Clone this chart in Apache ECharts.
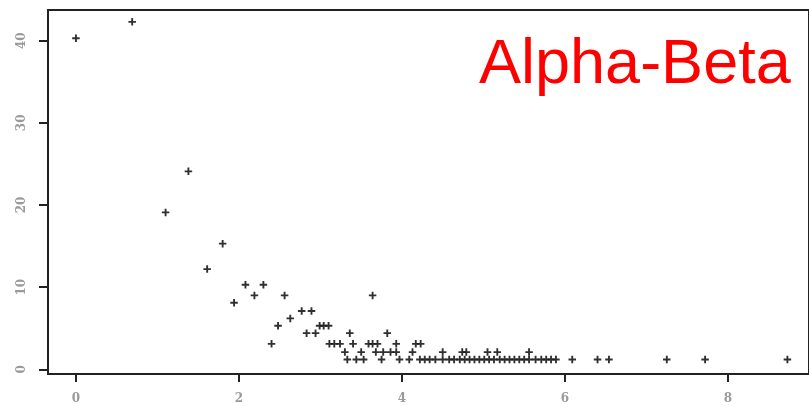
<!DOCTYPE html>
<html>
<head>
<meta charset="utf-8">
<script src="https://cdn.jsdelivr.net/npm/echarts@6/dist/echarts.min.js"></script>
<style>
  html, body { margin: 0; padding: 0; background: #fff; }
  #chart { width: 809px; height: 406px; }
</style>
</head>
<body>
<div id="chart"></div>
<script>
// Scatter points, grouped by rows of similar height
const xValues = [
  0.00, 0.69, 1.10, 1.38, 1.61, 1.80, 1.94, 2.08, 2.19, 2.30,
  2.56, 3.64, 2.63, 2.77, 2.89,
  2.48, 2.99, 3.04, 3.10,
  2.83, 2.94, 3.36, 3.82,
  2.40, 3.11, 3.17, 3.24, 3.40, 3.59, 3.64, 3.70, 3.93, 4.17, 4.23,
  3.30, 3.50, 3.68, 3.77, 3.86, 3.93, 4.13, 4.50, 4.74, 4.79, 5.05, 5.17, 5.56,
  3.33, 3.44, 3.53, 3.75, 3.97, 4.09, 4.22, 4.28, 4.34, 4.41, 4.50, 4.58, 4.64,
  4.71, 4.77, 4.83, 4.89, 4.95, 5.01, 5.07, 5.13, 5.20, 5.26, 5.32, 5.38, 5.44,
  5.50, 5.56, 5.64, 5.71, 5.77, 5.83, 5.89, 6.09, 6.40, 6.54, 7.25, 7.72, 8.73
];
const yValues = [
  40.3, 42.3, 19.1, 24.1, 12.2, 15.3, 8.1, 10.3, 9.0, 10.3,
  9.0, 9.0, 6.2, 7.1, 7.1,
  5.3, 5.3, 5.3, 5.3,
  4.4, 4.4, 4.4, 4.4,
  3.1, 3.1, 3.1, 3.1, 3.1, 3.1, 3.1, 3.1, 3.1, 3.1, 3.1,
  2.1, 2.1, 2.1, 2.1, 2.1, 2.1, 2.1, 2.1, 2.1, 2.1, 2.1, 2.1, 2.1,
  1.2, 1.2, 1.2, 1.2, 1.2, 1.2, 1.2, 1.2, 1.2, 1.2, 1.2, 1.2, 1.2,
  1.2, 1.2, 1.2, 1.2, 1.2, 1.2, 1.2, 1.2, 1.2, 1.2, 1.2, 1.2, 1.2,
  1.2, 1.2, 1.2, 1.2, 1.2, 1.2, 1.2, 1.2, 1.2, 1.2, 1.2, 1.2, 1.2
];

const xTicks = [0, 2, 4, 6, 8];
const yTicks = [0, 10, 20, 30, 40];
const titleText = 'Alpha-Beta';

const points = xValues.map((x, i) => [x, yValues[i]]);

const plusPath = 'path://M3,0H5V3H8V5H5V8H3V5H0V3H3Z';
const labelFont = { color: '#9a9a9a', fontFamily: 'DejaVu Serif', fontSize: 12, fontWeight: 'bold' };

const chart = echarts.init(document.getElementById('chart'), null, { renderer: 'canvas' });
chart.setOption({
  animation: false,
  backgroundColor: '#ffffff',
  grid: {
    left: 48, top: 10, width: 762, height: 364,
    show: true, borderColor: '#222', borderWidth: 2, backgroundColor: 'transparent'
  },
  xAxis: {
    type: 'value', min: -0.343, max: 8.995,
    splitLine: { show: false },
    axisLine: { show: false, onZero: false },
    axisTick: { show: true, inside: false, length: 8, customValues: xTicks, lineStyle: { color: '#222', width: 2 } },
    axisLabel: Object.assign({ margin: 19, customValues: xTicks, formatter: v => String(v) }, labelFont)
  },
  yAxis: {
    type: 'value', min: -0.57, max: 43.74,
    splitLine: { show: false },
    axisLine: { show: false, onZero: false },
    axisTick: { show: true, inside: false, length: 9, customValues: yTicks, lineStyle: { color: '#222', width: 2 } },
    axisLabel: Object.assign({ margin: 20, rotate: 90, customValues: yTicks, formatter: v => String(v) }, labelFont)
  },
  series: [{
    type: 'scatter',
    data: points,
    symbol: plusPath,
    symbolSize: 7.5,
    itemStyle: { color: '#1a1a1a', opacity: 0.9 }
  }],
  graphic: [{
    type: 'text',
    left: 479, top: 34,
    style: { text: titleText, fill: '#ff0000', font: '63px "Liberation Sans", Arial, sans-serif' }
  }]
});
</script>
</body>
</html>
